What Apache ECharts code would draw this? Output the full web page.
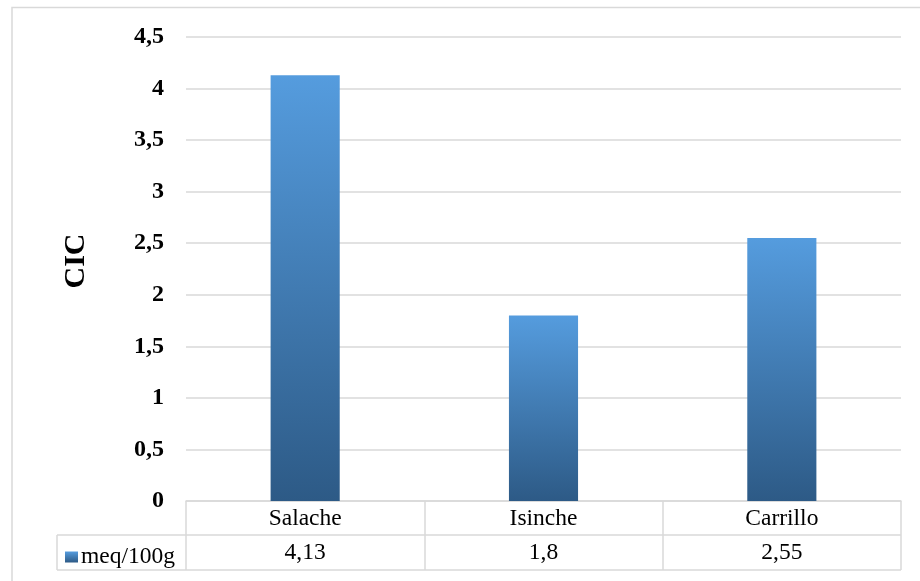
<!DOCTYPE html>
<html>
<head>
<meta charset="utf-8">
<script src="https://cdn.jsdelivr.net/npm/echarts@6/dist/echarts.min.js"></script>
<style>
html,body{margin:0;padding:0;background:#fff;}
#chart{width:920px;height:581px;}
</style>
</head>
<body>
<div id="chart"></div>
<script>
var categories = ['Salache', 'Isinche', 'Carrillo'];
var values = [4.13, 1.8, 2.55];
var seriesName = 'meq/100g';
var yAxisTitle = 'CIC';

var FONT = '"Liberation Serif", "Times New Roman", serif';
var LINE = '#d9d9d9';
function fmt(v) { return String(v).replace('.', ','); }

var chart = echarts.init(document.getElementById('chart'), null, {renderer: 'canvas'});
var option = {
  backgroundColor: '#fff',
  animation: false,
  grid: {left: 186, right: 19, top: 37, bottom: 80},
  legend: {
    show: true,
    left: 60, top: 540,
    icon: 'rect', itemWidth: 13, itemHeight: 11, itemGap: 4,
    selectedMode: false,
    textStyle: {fontFamily: FONT, fontSize: 23.5, color: '#000', padding: [0, 0, 0, -2]},
    data: [seriesName]
  },
  xAxis: {
    type: 'category',
    data: categories,
    axisLine: {show: true, lineStyle: {color: LINE, width: 1.5}},
    axisTick: {show: true, length: 69, lineStyle: {color: LINE, width: 1.5}},
    axisLabel: {
      margin: 1,
      formatter: function (v, i) { return '{a|' + v + '}\n{b|' + fmt(values[i]) + '}'; },
      rich: {
        a: {fontFamily: FONT, fontSize: 23.5, color: '#000', lineHeight: 34, height: 34},
        b: {fontFamily: FONT, fontSize: 23.5, color: '#000', lineHeight: 34, height: 34}
      }
    },
    splitLine: {show: false}
  },
  yAxis: {
    type: 'value',
    min: 0, max: 4.5, interval: 0.5,
    name: yAxisTitle,
    nameLocation: 'middle',
    nameRotate: 90,
    nameGap: 95,
    nameTextStyle: {fontFamily: FONT, fontSize: 30, fontWeight: 'bold', color: '#000', padding: [0, 0, 0, 16]},
    axisLine: {show: false},
    axisTick: {show: false},
    axisLabel: {margin: 22, fontFamily: FONT, fontSize: 24, fontWeight: 'bold', color: '#000', formatter: fmt},
    splitLine: {show: true, lineStyle: {color: LINE, width: 1.5}}
  },
  series: [{
    name: seriesName,
    type: 'bar',
    data: values,
    barWidth: '29%',
    itemStyle: {
      color: new echarts.graphic.LinearGradient(0, 0, 0, 1, [
        {offset: 0, color: '#559CDE'},
        {offset: 1, color: '#2D5A86'}
      ])
    }
  }],
  graphic: [
    {type: 'rect', shape: {x: 12, y: 7.5, width: 940, height: 600}, style: {fill: 'none', stroke: LINE, lineWidth: 1.5}, silent: true},
    {type: 'line', shape: {x1: 57, y1: 535, x2: 901, y2: 535}, style: {stroke: LINE, lineWidth: 1.5}, silent: true},
    {type: 'line', shape: {x1: 57, y1: 570, x2: 901, y2: 570}, style: {stroke: LINE, lineWidth: 1.5}, silent: true},
    {type: 'line', shape: {x1: 57, y1: 535, x2: 57, y2: 570}, style: {stroke: LINE, lineWidth: 1.5}, silent: true}
  ]
};
chart.setOption(option);
</script>
</body>
</html>
